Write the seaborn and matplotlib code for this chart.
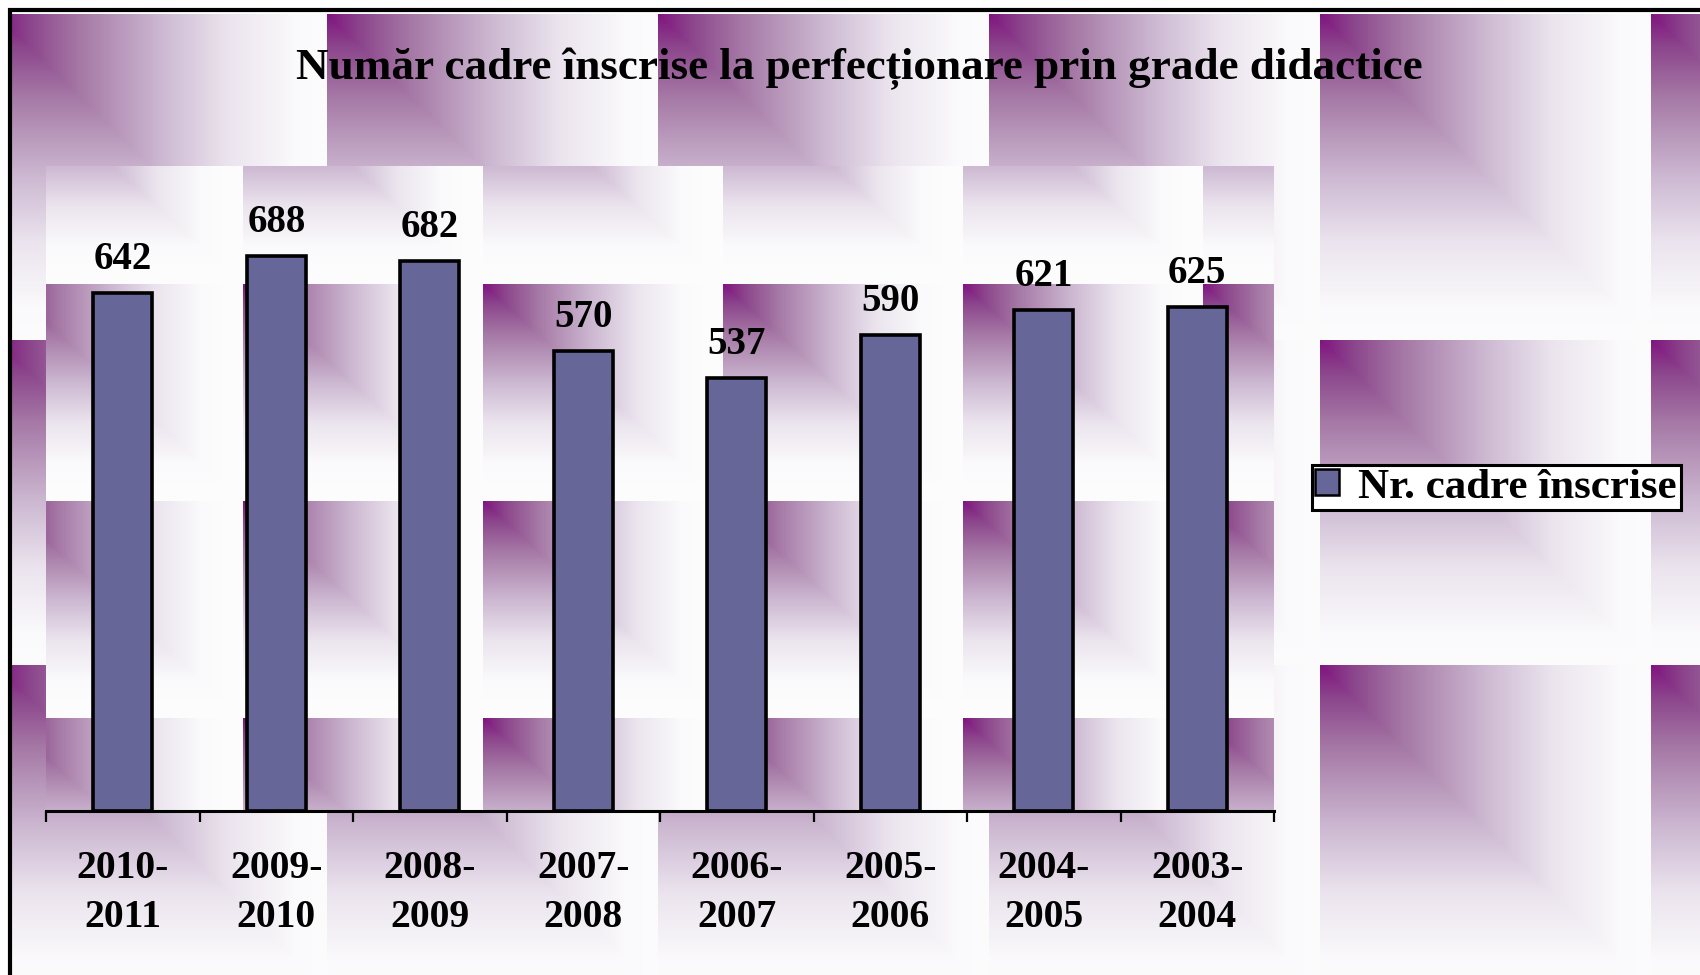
import numpy as np
import pandas as pd
import matplotlib
matplotlib.use("Agg")
import matplotlib.pyplot as plt
from matplotlib.patches import Rectangle
import seaborn as sns

# Data
years = ["2010-\n2011", "2009-\n2010", "2008-\n2009", "2007-\n2008",
         "2006-\n2007", "2005-\n2006", "2004-\n2005", "2003-\n2004"]
enrolled = [642, 688, 682, 570, 537, 590, 621, 625]
series_name = "Nr. cadre înscrise"
title = "Număr cadre înscrise la perfecționare prin grade didactice"

W, H, DPI = 1700, 975, 100

sns.set_theme(style="white")
plt.rcParams["font.family"] = ["Liberation Serif", "DejaVu Serif"]
plt.rcParams["font.weight"] = "bold"
plt.rcParams["text.color"] = "black"
plt.rcParams["xtick.color"] = "black"
plt.rcParams["xtick.labelcolor"] = "black"

# ---- tiled corner-gradient texture (purple corner fading to white) ----
stops_t = np.array([0.0, 0.1, 0.25, 0.5, 0.7, 0.9, 1.0])
stops_rgb = np.array([
    [128, 20, 128],
    [140, 70, 140],
    [165, 120, 165],
    [205, 185, 210],
    [235, 228, 238],
    [250, 249, 251],
    [252, 252, 253],
], dtype=float)


def paint_tiles(img, x0, x1, y0, y1, ox, oy, tw, th, speed=1.0):
    xs = np.arange(x0, x1, dtype=float)
    ys = np.arange(y0, y1, dtype=float)
    u = ((xs - ox) % tw) / tw
    v = ((ys - oy) % th) / th
    t = np.clip(np.maximum(u[None, :], v[:, None]) * speed, 0, 1)
    for c in range(3):
        img[y0:y1, x0:x1, c] = np.interp(t, stops_t, stops_rgb[:, c])


bg = np.full((H, W, 3), 255.0)
# chart-area texture
paint_tiles(bg, 12, W, 14, H, ox=327, oy=14, tw=331, th=325.5)
# plot-area texture
px0, px1, py0, py1 = 46, 1274, 166, 811
paint_tiles(bg, px0, px1, py0, py1, ox=483, oy=284, tw=240, th=217, speed=1.1)
bg = bg.astype(np.uint8)

fig = plt.figure(figsize=(W / DPI, H / DPI), dpi=DPI)
fig.figimage(bg, 0, 0, origin="upper", zorder=-5)

# chart-area frame (left and top edges visible)
fig.add_artist(Rectangle((10 / W, -0.1), 1.2, (H - 10) / H + 0.1,
                         transform=fig.transFigure, fill=False,
                         edgecolor="black", linewidth=3.0, zorder=1))

ax = fig.add_axes([px0 / W, (H - py1) / H, (px1 - px0) / W, (py1 - py0) / H])
ax.patch.set_alpha(0)

df = pd.DataFrame({"year": years, "value": enrolled})
sns.barplot(data=df, x="year", y="value", color="#666699", edgecolor="black",
            linewidth=2.6, width=0.385, saturation=1, label=series_name, ax=ax)

ax.set_ylim(0, 800)
ax.set_xlim(-0.5, len(years) - 0.5)
ax.set_xlabel("")
ax.set_ylabel("")
ax.set_yticks([])
for side in ["left", "right", "top"]:
    ax.spines[side].set_visible(False)
ax.spines["bottom"].set_color("black")
ax.spines["bottom"].set_linewidth(2.2)

# tick marks at category boundaries, labels centred under the bars
ax.set_xticks(np.arange(-0.5, len(years), 1.0))
ax.set_xticklabels([])
ax.tick_params(axis="x", which="major", direction="out", length=8, width=1.6,
               color="black", bottom=True)
ax.set_xticks(np.arange(len(years)), minor=True)
ax.set_xticklabels(years, minor=True, fontsize=28.5, fontweight="bold",
                   linespacing=1.42, color="black")
ax.tick_params(axis="x", which="minor", length=0, pad=28)

for cont in ax.containers:
    ax.bar_label(cont, fmt="%d", padding=11, fontsize=28, fontweight="bold",
                 color="black")

fig.text(859 / W, 1 - 69 / H, title, ha="center", va="center",
         fontsize=32.5, fontweight="bold", color="black")

leg = ax.legend(loc="center left", bbox_to_anchor=(1312 / W, 1 - 487.5 / H),
                bbox_transform=fig.transFigure, frameon=True, fancybox=False,
                facecolor="white", edgecolor="black", framealpha=1,
                prop={"weight": "bold", "size": 31},
                handlelength=0.55, handleheight=0.55, handletextpad=0.45,
                borderpad=0.08, borderaxespad=0)
leg.get_frame().set_linewidth(2.2)
for t in leg.get_texts():
    t.set_color("black")
for h in leg.legend_handles:
    h.set_linewidth(1.8)

fig.savefig("out.png", dpi=DPI)
